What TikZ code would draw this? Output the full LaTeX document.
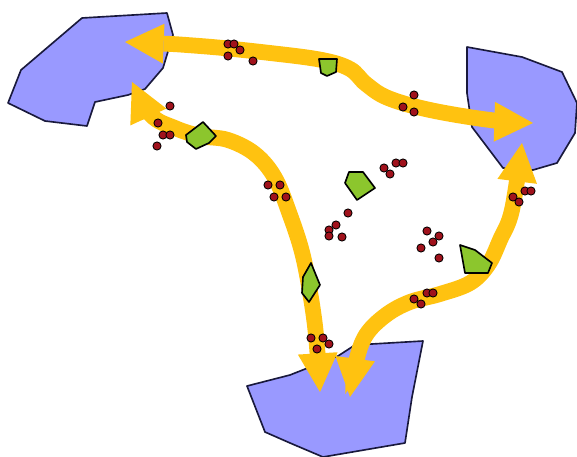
\documentclass[tikz,border=0pt]{standalone}
\usepackage{tikz}
\usetikzlibrary{arrows.meta}
\definecolor{zoneblue}{RGB}{153,153,255}
\definecolor{routegold}{RGB}{255,194,16}
\definecolor{patchgreen}{RGB}{140,198,45}
\definecolor{seedred}{RGB}{160,18,28}
\definecolor{outline}{RGB}{25,25,60}

\begin{document}
\begin{tikzpicture}[x=0.03cm, y=-0.03cm,
    zone/.style={fill=zoneblue, draw=outline, line width=1.4pt, line join=round},
    route/.style={draw=routegold, line width=13.5pt, line cap=butt,
        {Triangle[length=33pt,width=34pt,line width=0pt]}-{Triangle[length=33pt,width=34pt,line width=0pt]}},
    patch/.style={fill=patchgreen, draw=black, line width=1.4pt, line join=round},
    seed/.style={circle, fill=seedred, draw=black, line width=0.7pt, inner sep=0pt, minimum size=7pt}]
    \useasboundingbox (0,0) rectangle (577,457);

    % Zones
    \draw[zone] (82,18) -- (167,13) -- (173,35) -- (163,68) -- (145,89) -- (128,95) -- (95,102)
        -- (87,126) -- (45,121) -- (8,103) -- (21,70) -- cycle;
    \draw[zone] (467,47) -- (522,57) -- (562,72) -- (577,103) -- (575,133) -- (557,163)
        -- (533,170) -- (503,168) -- (472,127) -- (467,93) -- cycle;
    \draw[zone] (423,341) -- (355,345) -- (338,356) -- (290,375) -- (247,386) -- (265,432)
        -- (290,443) -- (323,457) -- (405,443) -- (412,397) -- cycle;

    % Route ends
    \coordinate (nwA) at (125,42);
    \coordinate (eA) at (533,123);
    \coordinate (nwB) at (132,82);
    \coordinate (sB) at (320,392);
    \coordinate (sC) at (350,397);
    \coordinate (eC) at (522,143);

    % Routes
    \draw[route] plot[smooth, tension=0.6] coordinates {(nwA) (200,46) (270,53) (322,60) (350,69)
        (366,84) (388,98) (430,110) (490,120) (eA)};
    \draw[route] plot[smooth, tension=0.6] coordinates {(nwB) (151,115) (175,128) (200,136) (228,140)
        (255,154) (275,178) (290,215) (302,252) (310,292) (316,335) (sB)};
    \draw[route] plot[smooth, tension=0.6] coordinates {(sC) (356,362) (366,335) (386,315) (410,302)
        (440,294) (470,283) (488,265) (500,240) (512,210) (eC)};

    % Patches
    \draw[patch] (186,135) -- (203,122) -- (216,136) -- (209,143) -- (196,149) -- (187,142) -- cycle;
    \draw[patch] (319,59) -- (337,59) -- (336,72) -- (327,76) -- (321,73) -- cycle;
    \draw[patch] (349,172) -- (363,172) -- (375,188) -- (357,200) -- (345,183) -- cycle;
    \draw[patch] (311,263) -- (320,285) -- (309,302) -- (302,293) -- (303,277) -- cycle;
    \draw[patch] (460,245) -- (475,250) -- (492,263) -- (488,273) -- (465,273) -- cycle;

    % Seeds
    \foreach \x/\y [count=\i] in {228/44, 234/44, 240/50, 228/56, 253/61,
        170/106, 158/123, 163/135, 170/135, 157/146,
        268/185, 280/185, 274/197, 286/197,
        414/95, 403/107, 414/112,
        396/163, 403/163, 384/168, 390/174,
        348/213, 336/225, 329/230, 329/236, 342/237,
        427/231, 439/236, 433/242, 421/248, 439/258,
        427/293, 433/293, 414/299, 421/304,
        311/338, 323/338, 329/344, 317/349,
        525/191, 531/191, 513/197, 519/202}
        \node[seed] (s\i) at (\x,\y) {};
\end{tikzpicture}
\end{document}
